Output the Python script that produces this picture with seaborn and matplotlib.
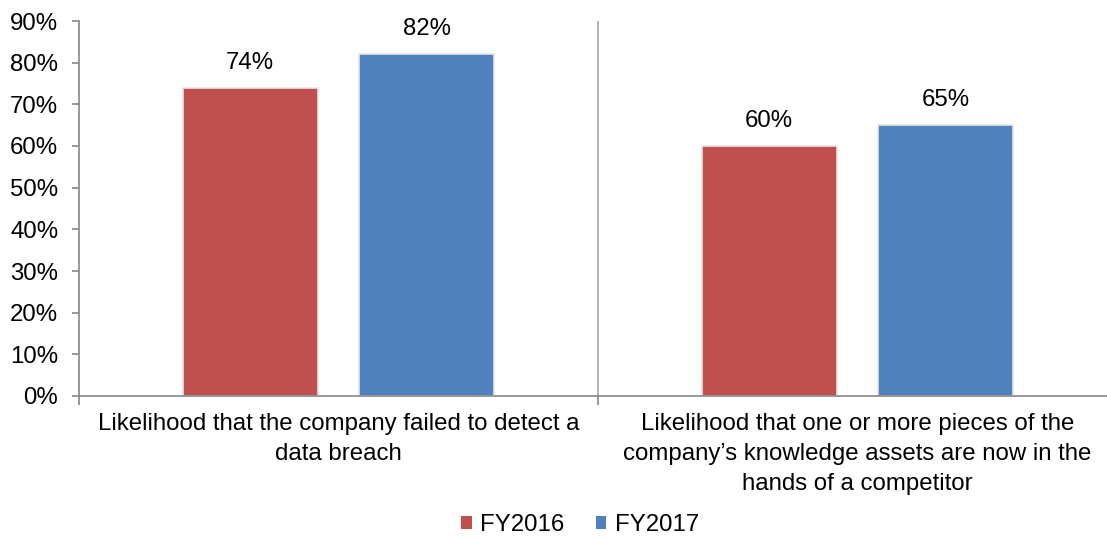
import matplotlib
matplotlib.use("Agg")
import matplotlib.pyplot as plt
import seaborn as sns
import pandas as pd
from matplotlib.ticker import FixedLocator, NullFormatter
from matplotlib.patches import Patch

categories = [
    "Likelihood that the company failed to detect a\ndata breach",
    "Likelihood that one or more pieces of the\ncompany\u2019s knowledge assets are now in the\nhands of a competitor",
]
series = ["FY2016", "FY2017"]
fy2016 = [74, 60]
fy2017 = [82, 65]
yticks = [0, 10, 20, 30, 40, 50, 60, 70, 80, 90]
colors = ["#C0504D", "#4F81BD"]

df = pd.DataFrame({
    "category": categories * 2,
    "series": [series[0]] * 2 + [series[1]] * 2,
    "value": fy2016 + fy2017,
})

sns.set_style("white")
plt.rcParams["font.family"] = ["Liberation Sans", "DejaVu Sans"]
plt.rcParams["text.color"] = "black"
plt.rcParams["xtick.labelcolor"] = "black"
plt.rcParams["ytick.labelcolor"] = "black"

FS = 17.3

fig = plt.figure(figsize=(11.07, 5.39), dpi=100)
ax = fig.add_axes([79 / 1107, 1 - 396 / 539, 1038 / 1107, 375 / 539])

sns.barplot(data=df, x="category", y="value", hue="series", palette=colors,
            saturation=1, width=0.68, gap=0.235, ax=ax, legend=False,
            edgecolor="#e6e6e6", linewidth=1.2)

ax.set_ylim(0, 90)
ax.set_xlim(-0.5, 1.5)
ax.set_yticks(yticks)
ax.set_yticklabels([f"{t}%" for t in yticks], fontsize=FS)
ax.set_xlabel("")
ax.set_ylabel("")

# category labels centred, boundary ticks between categories
ax.set_xticks([0, 1])
ax.set_xticklabels(categories, fontsize=FS, linespacing=1.45)
ax.tick_params(axis="x", which="major", length=0, pad=12.5, bottom=True)
ax.xaxis.set_minor_locator(FixedLocator([-0.5, 0.5, 1.5]))
ax.xaxis.set_minor_formatter(NullFormatter())
ax.tick_params(axis="x", which="minor", length=6.5, width=1.2, color="#868686",
               direction="out", bottom=True)
ax.tick_params(axis="y", length=5, width=1.2, color="#868686",
               direction="out", pad=10, left=True)

for side in ["top", "right"]:
    ax.spines[side].set_visible(False)
for side in ["left", "bottom"]:
    ax.spines[side].set_color("#868686")
    ax.spines[side].set_linewidth(1.2)

ax.axvline(0.5, color="#a6a6a6", linewidth=1.2, zorder=0)

for container in ax.containers:
    ax.bar_label(container, labels=[f"{v:.0f}%" for v in container.datavalues],
                 padding=10, fontsize=FS)

handles = [Patch(facecolor=c, edgecolor="none") for c in colors]
fig.legend(handles, series, loc="center", bbox_to_anchor=(580 / 1107, 1 - 525 / 539),
           ncol=2, frameon=False, fontsize=FS, handlelength=0.45,
           handleheight=0.45, handletextpad=0.35, columnspacing=1.3)

fig.savefig("out.png", dpi=100)
